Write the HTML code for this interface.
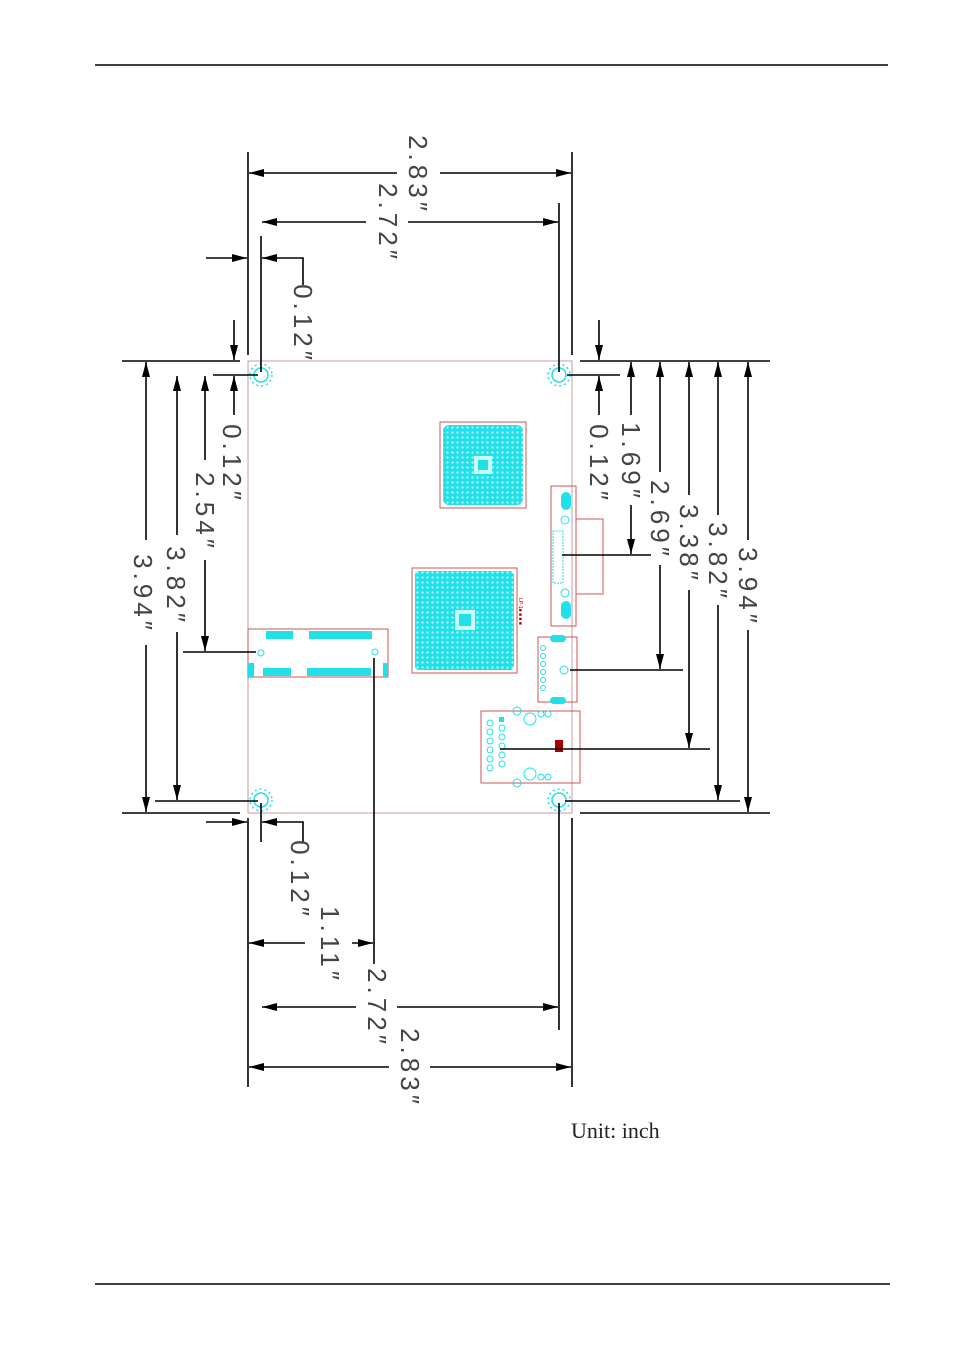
<!DOCTYPE html>
<html><head><meta charset="utf-8"><style>
html,body{margin:0;padding:0;background:#fff;}
svg{display:block;}
.t{font-family:"Liberation Sans",sans-serif;font-size:26px;fill:#444;letter-spacing:4px;}
</style></head><body>
<svg width="954" height="1352" viewBox="0 0 954 1352" xmlns="http://www.w3.org/2000/svg">
<defs>
<marker id="a" markerUnits="userSpaceOnUse" markerWidth="16" markerHeight="8" refX="15" refY="4" orient="auto">
<path d="M0,0 L15,4 L0,8 z" fill="#000"/>
</marker>
<pattern id="bga" width="5" height="5" patternUnits="userSpaceOnUse">
<rect width="5" height="5" fill="#22e0e8"/>
<circle cx="2.5" cy="2.5" r="1.1" fill="#c8fbfd"/>
</pattern>
</defs>
<line x1="95" y1="65" x2="888" y2="65" stroke="#000" stroke-width="1.5"/>
<line x1="95" y1="1284" x2="890" y2="1284" stroke="#000" stroke-width="1.5"/>

<rect x="248" y="361" width="324" height="452" fill="none" stroke="#c99" stroke-width="1"/>

<rect x="440" y="422" width="86" height="86" fill="none" stroke="#c55" stroke-width="1"/>
<rect x="443" y="425" width="80" height="80" rx="6" fill="url(#bga)"/>
<rect x="474" y="456" width="18" height="18" fill="#c8fbfd"/>
<rect x="478" y="460" width="10" height="10" fill="#22e0e8"/>
<rect x="412" y="568" width="105" height="105" fill="none" stroke="#c55" stroke-width="1"/>
<rect x="415" y="571" width="99" height="99" rx="4" fill="url(#bga)"/>
<rect x="455" y="610" width="20" height="20" fill="#c8fbfd"/>
<rect x="459" y="614" width="12" height="12" fill="#22e0e8"/>
<text x="0" y="0" transform="translate(519,598) rotate(90)" font-family="Liberation Sans,sans-serif" font-size="5" fill="#a00">LP-1■ ■ ■ ■</text>

<rect x="248" y="629" width="140" height="48" fill="none" stroke="#c55" stroke-width="1"/>
<rect x="266" y="631" width="27" height="8" fill="#22e0e8"/>
<rect x="309" y="631" width="63" height="8" fill="#22e0e8"/>
<rect x="263" y="668" width="28" height="8" fill="#22e0e8"/>
<rect x="307" y="668" width="64" height="8" fill="#22e0e8"/>
<rect x="248" y="663" width="6" height="14" fill="#22e0e8"/>
<rect x="383" y="663" width="5" height="14" fill="#22e0e8"/>
<circle cx="261" cy="653" r="3" fill="none" stroke="#22e0e8"/>
<circle cx="375" cy="652" r="3" fill="none" stroke="#22e0e8"/>

<rect x="551" y="486" width="25" height="140" fill="none" stroke="#c55"/>
<rect x="576" y="519" width="27" height="75" fill="none" stroke="#c55"/>
<rect x="561" y="492" width="10" height="18" rx="5" fill="#22e0e8"/>
<rect x="561" y="601" width="10" height="18" rx="5" fill="#22e0e8"/>
<circle cx="565" cy="520" r="4" fill="none" stroke="#22e0e8"/>
<circle cx="565" cy="593" r="4" fill="none" stroke="#22e0e8"/>
<rect x="553" y="531" width="10" height="52" fill="none" stroke="#22e0e8" stroke-dasharray="2 1"/>

<rect x="538" y="637" width="39" height="65" fill="none" stroke="#c55"/>
<rect x="550" y="635" width="16" height="7" rx="3.5" fill="#22e0e8"/>
<rect x="550" y="697" width="16" height="7" rx="3.5" fill="#22e0e8"/>
<circle cx="564" cy="670" r="4" fill="none" stroke="#22e0e8"/>
<g fill="none" stroke="#22e0e8"><circle cx="543" cy="648" r="2.5"/><circle cx="543" cy="656" r="2.5"/><circle cx="543" cy="664" r="2.5"/><circle cx="543" cy="672" r="2.5"/><circle cx="543" cy="680" r="2.5"/><circle cx="543" cy="688" r="2.5"/></g>

<rect x="481" y="711" width="99" height="72" fill="none" stroke="#c55"/>
<g fill="none" stroke="#22e0e8">
<circle cx="517" cy="711" r="4"/><circle cx="530" cy="719" r="6"/><circle cx="541" cy="714" r="3"/><circle cx="548" cy="714" r="3"/>
<circle cx="517" cy="783" r="4"/><circle cx="530" cy="774" r="6"/><circle cx="541" cy="777" r="3"/><circle cx="548" cy="777" r="3"/>
<circle cx="490" cy="723" r="3"/><circle cx="490" cy="732" r="3"/><circle cx="490" cy="741" r="3"/><circle cx="490" cy="750" r="3"/><circle cx="490" cy="759" r="3"/><circle cx="490" cy="768" r="3"/>
<circle cx="502" cy="728" r="3"/><circle cx="502" cy="737" r="3"/><circle cx="502" cy="746" r="3"/><circle cx="502" cy="755" r="3"/><circle cx="502" cy="764" r="3"/>
</g>
<rect x="499" y="717" width="5" height="5" fill="#22e0e8"/>
<rect x="555" y="740" width="8" height="12" fill="#a00"/>

<g fill="none" stroke="#22e0e8" stroke-width="1.5">
<circle cx="261" cy="375" r="7"/><circle cx="559" cy="375" r="7"/><circle cx="261" cy="800" r="7"/><circle cx="559" cy="800" r="7"/>
<circle cx="261" cy="375" r="11" stroke-dasharray="2 3"/><circle cx="559" cy="375" r="11" stroke-dasharray="2 3"/><circle cx="261" cy="800" r="11" stroke-dasharray="2 3"/><circle cx="559" cy="800" r="11" stroke-dasharray="2 3"/>
</g>

<g stroke="#000" stroke-width="1.6" fill="none">
<line x1="248" y1="152" x2="248" y2="355"/>
<line x1="572" y1="152" x2="572" y2="355"/>
<line x1="261" y1="236" x2="261" y2="372"/>
<line x1="559" y1="203" x2="559" y2="372"/>
<line x1="397" y1="173" x2="249" y2="173" marker-end="url(#a)"/>
<line x1="440" y1="173" x2="571" y2="173" marker-end="url(#a)"/>
<line x1="366" y1="222" x2="262" y2="222" marker-end="url(#a)"/>
<line x1="408" y1="222" x2="558" y2="222" marker-end="url(#a)"/>
<line x1="206" y1="258" x2="247" y2="258" marker-end="url(#a)"/>
<polyline points="303,285 303,258 262,258" marker-end="url(#a)"/>

<line x1="248" y1="818" x2="248" y2="1087"/>
<line x1="572" y1="818" x2="572" y2="1087"/>
<line x1="261" y1="803" x2="261" y2="842"/>
<line x1="559" y1="803" x2="559" y2="1030"/>
<line x1="374" y1="658" x2="374" y2="964"/>
<line x1="206" y1="822" x2="247" y2="822" marker-end="url(#a)"/>
<polyline points="303,842 303,822 262,822" marker-end="url(#a)"/>
<line x1="305" y1="943" x2="249" y2="943" marker-end="url(#a)"/>
<line x1="352" y1="943" x2="373" y2="943" marker-end="url(#a)"/>
<line x1="356" y1="1007" x2="262" y2="1007" marker-end="url(#a)"/>
<line x1="397" y1="1007" x2="558" y2="1007" marker-end="url(#a)"/>
<line x1="389" y1="1067" x2="249" y2="1067" marker-end="url(#a)"/>
<line x1="430" y1="1067" x2="571" y2="1067" marker-end="url(#a)"/>

<line x1="122" y1="361" x2="240" y2="361"/>
<line x1="122" y1="813" x2="240" y2="813"/>
<line x1="213" y1="375" x2="258" y2="375"/>
<line x1="155" y1="801" x2="258" y2="801"/>
<line x1="183" y1="652" x2="256" y2="652"/>
<line x1="146" y1="540" x2="146" y2="362" marker-end="url(#a)"/>
<line x1="146" y1="645" x2="146" y2="812" marker-end="url(#a)"/>
<line x1="177" y1="535" x2="177" y2="376" marker-end="url(#a)"/>
<line x1="177" y1="632" x2="177" y2="800" marker-end="url(#a)"/>
<line x1="205" y1="460" x2="205" y2="376" marker-end="url(#a)"/>
<line x1="205" y1="560" x2="205" y2="651" marker-end="url(#a)"/>
<line x1="234" y1="320" x2="234" y2="360" marker-end="url(#a)"/>
<line x1="234" y1="415" x2="234" y2="376" marker-end="url(#a)"/>

<line x1="580" y1="361" x2="770" y2="361"/>
<line x1="580" y1="813" x2="770" y2="813"/>
<line x1="567" y1="375" x2="620" y2="375"/>
<line x1="565" y1="801" x2="740" y2="801"/>
<line x1="562" y1="555" x2="651" y2="555"/>
<line x1="570" y1="670" x2="683" y2="670"/>
<line x1="500" y1="749" x2="710" y2="749"/>
<line x1="599" y1="320" x2="599" y2="360" marker-end="url(#a)"/>
<line x1="599" y1="415" x2="599" y2="376" marker-end="url(#a)"/>
<line x1="631" y1="415" x2="631" y2="362" marker-end="url(#a)"/>
<line x1="631" y1="505" x2="631" y2="554" marker-end="url(#a)"/>
<line x1="660" y1="472" x2="660" y2="362" marker-end="url(#a)"/>
<line x1="660" y1="565" x2="660" y2="669" marker-end="url(#a)"/>
<line x1="689" y1="495" x2="689" y2="362" marker-end="url(#a)"/>
<line x1="689" y1="590" x2="689" y2="748" marker-end="url(#a)"/>
<line x1="718" y1="515" x2="718" y2="362" marker-end="url(#a)"/>
<line x1="718" y1="605" x2="718" y2="800" marker-end="url(#a)"/>
<line x1="748" y1="540" x2="748" y2="362" marker-end="url(#a)"/>
<line x1="748" y1="630" x2="748" y2="812" marker-end="url(#a)"/>
</g>

<g class="t" text-anchor="middle">
<text transform="translate(409,175) rotate(90)">2.83″</text>
<text transform="translate(379,223) rotate(90)">2.72″</text>
<text transform="translate(294,324) rotate(90)">0.12″</text>
<text transform="translate(291,880) rotate(90)">0.12″</text>
<text transform="translate(321,945) rotate(90)">1.11″</text>
<text transform="translate(368,1008) rotate(90)">2.72″</text>
<text transform="translate(401,1068) rotate(90)">2.83″</text>
<text transform="translate(134,594) rotate(90)">3.94″</text>
<text transform="translate(167,586) rotate(90)">3.82″</text>
<text transform="translate(196,512) rotate(90)">2.54″</text>
<text transform="translate(223,464) rotate(90)">0.12″</text>
<text transform="translate(590,464) rotate(90)">0.12″</text>
<text transform="translate(622,462) rotate(90)">1.69″</text>
<text transform="translate(651,520) rotate(90)">2.69″</text>
<text transform="translate(680,544) rotate(90)">3.38″</text>
<text transform="translate(709,562) rotate(90)">3.82″</text>
<text transform="translate(739,587) rotate(90)">3.94″</text>
</g>

<text x="571" y="1138" font-family="Liberation Serif,serif" font-size="22" fill="#222">Unit: inch</text>
</svg>
</body></html>
